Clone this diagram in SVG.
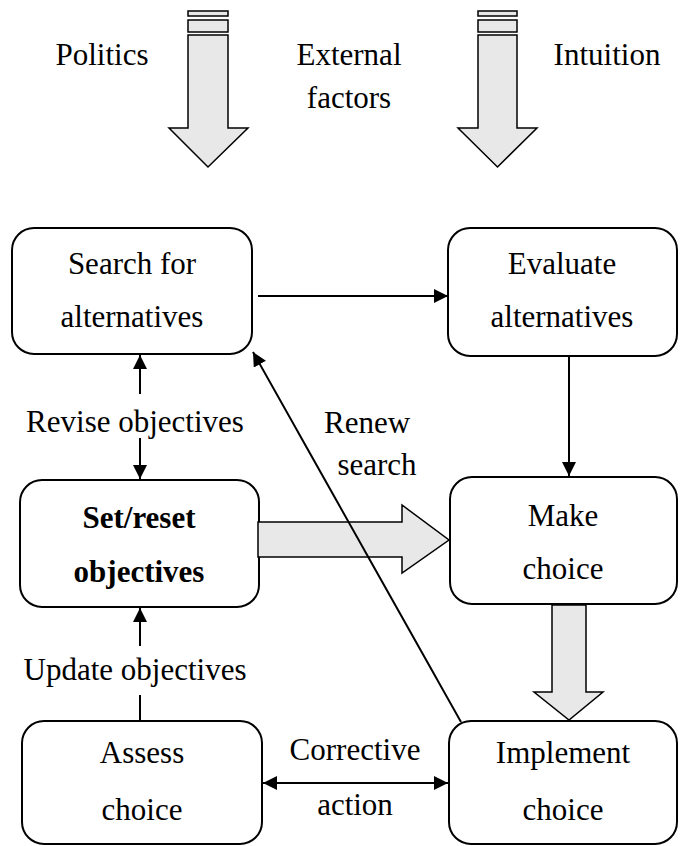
<svg xmlns="http://www.w3.org/2000/svg" width="680" height="846" viewBox="0 0 680 846">
  <defs>
    <marker id="head" viewBox="0 0 14 14" refX="14" refY="7" markerWidth="14" markerHeight="14" markerUnits="userSpaceOnUse" orient="auto-start-reverse">
      <path d="M0,0 L14,7 L0,14 Z" fill="#000"/>
    </marker>
  </defs>
  <style>
    .box { fill: #fff; stroke: #000; stroke-width: 2; }
    .big { fill: #e8e8e8; stroke: #000; stroke-width: 1.5; stroke-linejoin: miter; }
    .txt { font-family: "Liberation Serif", "Times New Roman", serif; font-size: 31px; fill: #000; text-anchor: middle; }
    .bold { font-weight: bold; }
    .ln { stroke: #000; stroke-width: 2; fill: none; }
  </style>
  <rect width="680" height="846" fill="#fff"/>

  <!-- influences from above -->
  <g id="influences">
    <rect class="big" x="188" y="11" width="40" height="5"/>
    <rect class="big" x="188" y="20" width="40" height="12"/>
    <path class="big" d="M188,35 H228 V128 H248 L208,167 L169,128 H188 Z"/>
    <rect class="big" x="478" y="11" width="39" height="5"/>
    <rect class="big" x="478" y="20" width="39" height="12"/>
    <path class="big" d="M478,35 H517 V128 H537 L497.5,167 L458,128 H478 Z"/>
    <text class="txt" x="102" y="65">Politics</text>
    <text class="txt" x="349" y="65">External</text>
    <text class="txt" x="349" y="108">factors</text>
    <text class="txt" x="607" y="65">Intuition</text>
  </g>

  <!-- process steps -->
  <g id="search">
    <rect class="box" x="12" y="228" width="240" height="126" rx="22"/>
    <text class="txt" x="132" y="274">Search for</text>
    <text class="txt" x="132" y="327">alternatives</text>
  </g>
  <g id="evaluate">
    <rect class="box" x="448" y="228" width="229" height="128" rx="22"/>
    <text class="txt" x="562" y="274">Evaluate</text>
    <text class="txt" x="562" y="327">alternatives</text>
  </g>
  <g id="set-objectives">
    <rect class="box" x="20" y="480" width="239" height="127" rx="22"/>
    <text class="txt bold" x="139" y="528">Set/reset</text>
    <text class="txt bold" x="139" y="582">objectives</text>
  </g>
  <g id="make-choice">
    <rect class="box" x="450" y="477" width="227" height="127" rx="22"/>
    <text class="txt" x="563" y="526">Make</text>
    <text class="txt" x="563" y="579">choice</text>
  </g>
  <g id="assess">
    <rect class="box" x="22" y="721" width="240" height="123" rx="22"/>
    <text class="txt" x="142" y="763">Assess</text>
    <text class="txt" x="142" y="820">choice</text>
  </g>
  <g id="implement">
    <rect class="box" x="449" y="721" width="228" height="123" rx="22"/>
    <text class="txt" x="563" y="763">Implement</text>
    <text class="txt" x="563" y="820">choice</text>
  </g>

  <!-- connectors -->
  <g id="connectors">
    <path class="big" d="M258,522 H402 V505 L449,540 L402,573 V557 H258 Z"/>
    <path class="big" d="M552,605 H586 V692 H603 L569,720 L534,692 H552 Z"/>
    <line class="ln" x1="258" y1="296" x2="448" y2="296" marker-end="url(#head)"/>
    <line class="ln" x1="569" y1="356" x2="569" y2="476" marker-end="url(#head)"/>
    <line class="ln" x1="461" y1="722" x2="253" y2="352" marker-end="url(#head)"/>
    <line class="ln" x1="140" y1="394" x2="140" y2="355" marker-end="url(#head)"/>
    <line class="ln" x1="140" y1="438" x2="140" y2="479" marker-end="url(#head)"/>
    <line class="ln" x1="140" y1="646" x2="140" y2="608" marker-end="url(#head)"/>
    <line class="ln" x1="140" y1="695" x2="140" y2="721"/>
    <line class="ln" x1="263" y1="783" x2="448" y2="783" marker-start="url(#head)" marker-end="url(#head)"/>
    <text class="txt" x="135" y="432">Revise objectives</text>
    <text class="txt" x="367" y="433">Renew</text>
    <text class="txt" x="377" y="475">search</text>
    <text class="txt" x="135" y="680">Update objectives</text>
    <text class="txt" x="355" y="760">Corrective</text>
    <text class="txt" x="355" y="815">action</text>
  </g>
</svg>
